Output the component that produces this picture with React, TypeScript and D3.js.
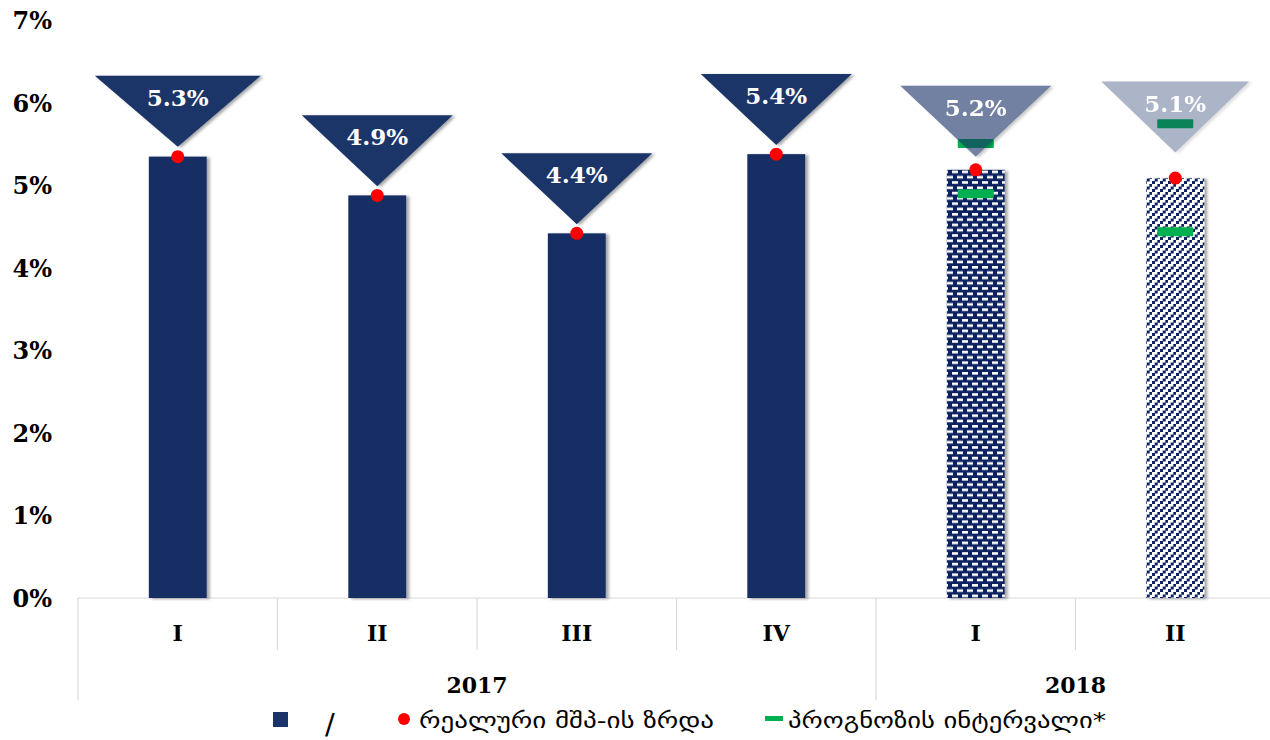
import React from "react";
import * as d3 from "d3";

const quarters = ["I", "II", "III", "IV", "I", "II"];
const years = ["2017", "2017", "2017", "2017", "2018", "2018"];
const barValues = [5.35, 4.88, 4.42, 5.38, 5.19, 5.09];
const labelValues = ["5.3%", "4.9%", "4.4%", "5.4%", "5.2%", "5.1%"];
const labelApex = [5.47, 4.99, 4.53, 5.49, 5.35, 5.4];
const intervalHigh = [null, null, null, null, 5.51, 5.75];
const intervalLow = [null, null, null, null, 4.9, 4.44];
const yTicks = [0, 1, 2, 3, 4, 5, 6, 7];
const fills = ["solid", "solid", "solid", "solid", "bricks", "diag"];
const triOpacity = [1, 1, 1, 1, 0.62, 0.36];
const triWidth = [166, 151, 151, 151, 151, 148];
const legendLabels = ["/", "რეალური მშპ-ის ზრდა", "პროგნოზის ინტერვალი*"];

const W = 1270;
const H = 740;
const NAVY = "#142d64";
const TRI = "#1f3667";
const SERIF = "'DejaVu Serif', serif";
const GEO = "'DejaVu Sans', sans-serif";

export default function App() {
  const x0 = 78, x1 = 1275;
  const y = d3.scaleLinear().domain([0, 7]).range([598, 20.5]);
  const x = d3
    .scaleBand<number>()
    .domain(d3.range(quarters.length))
    .range([x0, x1])
    .padding(0);
  const bw = x.bandwidth() * 0.29;
  const yearGroups = d3.groups(
    d3.range(years.length),
    (i) => years[i]
  );

  return (
    <svg width={W} height={H} style={{ position: "absolute", left: 0, top: 0 }}>
      <defs>
        <pattern id="bricks" width="10" height="10.6" patternUnits="userSpaceOnUse">
          <rect width="10" height="10.6" fill="#0d2260" />
          <rect x="2" y="1" width="6" height="2.6" fill="#fff" />
          <rect x="-3" y="6.3" width="6" height="2.6" fill="#fff" />
          <rect x="7" y="6.3" width="6" height="2.6" fill="#fff" />
        </pattern>
        <pattern id="diag" width="8" height="8" patternUnits="userSpaceOnUse">
          <rect width="8" height="8" fill="#fff" />
          <rect x="0" y="5" width="3" height="3" fill="#0d2260" />
          <rect x="2.7" y="2.5" width="3" height="3" fill="#0d2260" />
          <rect x="5.3" y="0" width="2.7" height="2.8" fill="#0d2260" />
        </pattern>
        <filter id="shadow" x="-20%" y="-5%" width="150%" height="110%">
          <feDropShadow dx="3" dy="1" stdDeviation="1.6" floodColor="#000" floodOpacity="0.35" />
        </filter>
      </defs>

      {/* y axis labels */}
      {yTicks.map((t) => (
        <text
          key={t}
          x={52}
          y={y(t)}
          dy="0.36em"
          textAnchor="end"
          fontFamily={SERIF}
          fontWeight="bold"
          fontSize={24}
          fill="#000"
        >
          {t}%
        </text>
      ))}

      {/* category axis lines */}
      <g stroke="#d9d9d9" strokeWidth={1.2}>
        <line x1={x0} x2={x1} y1={y(0)} y2={y(0)} />
        {d3.range(quarters.length + 1).map((i) => {
          const xx = i < quarters.length ? (x(i) as number) : x1;
          const yearBoundary =
            i === 0 || i === quarters.length || years[i] !== years[i - 1];
          return (
            <line
              key={i}
              x1={xx}
              x2={xx}
              y1={y(0)}
              y2={yearBoundary ? 700 : 650}
            />
          );
        })}
      </g>

      {/* bars */}
      {barValues.map((v, i) => {
        const cx = (x(i) as number) + x.bandwidth() / 2;
        const f = fills[i] === "solid" ? NAVY : `url(#${fills[i]})`;
        return (
          <rect
            key={i}
            x={cx - bw / 2}
            y={y(v)}
            width={bw}
            height={y(0) - y(v)}
            fill={f}
            filter="url(#shadow)"
          />
        );
      })}

      {/* interval markers */}
      {quarters.map((_, i) => {
        const cx = (x(i) as number) + x.bandwidth() / 2;
        return [intervalHigh[i], intervalLow[i]].map((v, k) =>
          v == null ? null : (
            <rect
              key={`${i}-${k}`}
              x={cx - 18}
              y={y(v) - 4.5}
              width={36}
              height={9}
              rx={1}
              fill="#00b050"
            />
          )
        );
      })}

      {/* triangles with labels */}
      {labelApex.map((v, i) => {
        const cx = (x(i) as number) + x.bandwidth() / 2;
        const apex = y(v);
        const top = apex - 71;
        const hw = triWidth[i] / 2;
        return (
          <g key={i} opacity={triOpacity[i]}>
            <path
              d={`M${cx - hw},${top} L${cx + hw},${top} L${cx},${apex} Z`}
              fill={TRI}
              filter="url(#shadow)"
            />
            <text
              x={cx}
              y={top + 30}
              textAnchor="middle"
              fontFamily={SERIF}
              fontWeight="bold"
              fontSize={23}
              fill="#fff"
            >
              {labelValues[i]}
            </text>
          </g>
        );
      })}

      {/* red dots */}
      {barValues.map((v, i) => {
        const cx = (x(i) as number) + x.bandwidth() / 2;
        return <circle key={i} cx={cx} cy={y(v)} r={6.5} fill="#ff0000" />;
      })}

      {/* quarter labels */}
      {quarters.map((q, i) => (
        <text
          key={i}
          x={(x(i) as number) + x.bandwidth() / 2}
          y={641}
          textAnchor="middle"
          fontFamily={SERIF}
          fontWeight="bold"
          fontSize={22}
        >
          {q}
        </text>
      ))}

      {/* year labels */}
      {yearGroups.map(([yr, idx]) => {
        const a = x(idx[0]) as number;
        const b = (x(idx[idx.length - 1]) as number) + x.bandwidth();
        return (
          <text
            key={yr}
            x={(a + b) / 2}
            y={693}
            textAnchor="middle"
            fontFamily={SERIF}
            fontWeight="bold"
            fontSize={22}
          >
            {yr}
          </text>
        );
      })}

      {/* legend */}
      <g>
        <rect x={273} y={712} width={15} height={15} fill="#1a3469" />
        <text x={330} y={734} textAnchor="middle" fontFamily={GEO} fontSize={29}>
          {legendLabels[0]}
        </text>
        <circle cx={404} cy={719} r={6} fill="#ff0000" />
        <text x={419} y={728} fontFamily={GEO} fontSize={22} textLength={295} lengthAdjust="spacingAndGlyphs">
          {legendLabels[1]}
        </text>
        <rect x={765} y={716} width={18} height={5} fill="#00b050" />
        <text x={788} y={728} fontFamily={GEO} fontSize={22} textLength={318} lengthAdjust="spacingAndGlyphs">
          {legendLabels[2]}
        </text>
      </g>
    </svg>
  );
}
